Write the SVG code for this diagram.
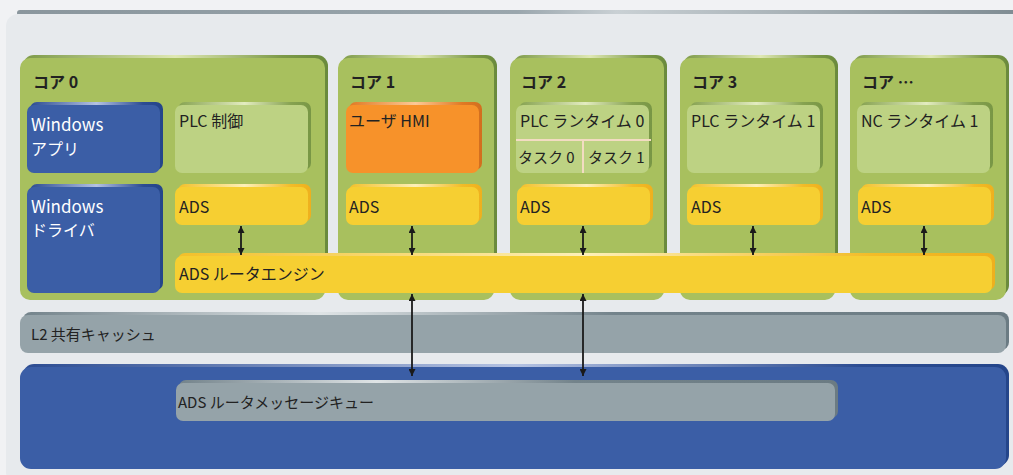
<svg xmlns="http://www.w3.org/2000/svg" width="1013" height="475" viewBox="0 0 1013 475">
<defs>
<linearGradient id="gGreen" x1="0" x2="1" y1="0" y2="0"><stop offset="0" stop-color="#7d9a48"/><stop offset="0.5" stop-color="#dfe8b4"/><stop offset="0.85" stop-color="#7d9a48"/><stop offset="1" stop-color="#6a8a3c"/></linearGradient>
<linearGradient id="gLGreen" x1="0" x2="1" y1="0" y2="0"><stop offset="0" stop-color="#86a250"/><stop offset="0.5" stop-color="#e3ecc0"/><stop offset="0.85" stop-color="#86a250"/><stop offset="1" stop-color="#789645"/></linearGradient>
<linearGradient id="gBlue" x1="0" x2="1" y1="0" y2="0"><stop offset="0" stop-color="#2c4c92"/><stop offset="0.5" stop-color="#b4c2e2"/><stop offset="0.85" stop-color="#2c4c92"/><stop offset="1" stop-color="#24458a"/></linearGradient>
<linearGradient id="gYellow" x1="0" x2="1" y1="0" y2="0"><stop offset="0" stop-color="#f2c02a"/><stop offset="0.5" stop-color="#fdf0b8"/><stop offset="0.85" stop-color="#f2bc28"/><stop offset="1" stop-color="#eeb01e"/></linearGradient>
<linearGradient id="gOrange" x1="0" x2="1" y1="0" y2="0"><stop offset="0" stop-color="#e07a24"/><stop offset="0.5" stop-color="#fcc996"/><stop offset="0.85" stop-color="#e07a24"/><stop offset="1" stop-color="#d26e1e"/></linearGradient>
<linearGradient id="gGrey" x1="0" x2="1" y1="0" y2="0"><stop offset="0" stop-color="#73838b"/><stop offset="0.3" stop-color="#dfe4e6"/><stop offset="0.6" stop-color="#73838b"/><stop offset="1" stop-color="#6b7b83"/></linearGradient>
<linearGradient id="gTop" x1="0" x2="1" y1="0" y2="0"><stop offset="0" stop-color="#8a969d"/><stop offset="0.5" stop-color="#9aa6ad"/><stop offset="0.6" stop-color="#c9d0d4"/><stop offset="1" stop-color="#7f8c93"/></linearGradient>
<marker id="arr" viewBox="0 0 10 10" refX="10" refY="5" markerWidth="7" markerHeight="7" markerUnits="userSpaceOnUse" orient="auto-start-reverse"><path d="M0,0 L10,5 L0,10 z" fill="#1a1a1a"/></marker>
</defs>
<style>
text{font-family:"Noto Sans CJK JP","Liberation Sans",sans-serif;font-size:16px;fill:#222}
.t{font-weight:bold;font-size:16px}
.s{font-size:15px}
.win{font-size:17px}
.w{fill:#ffffff}
.fGreen{fill:#a8c05e}
.fLGreen{fill:#bdd283}
.fBlue{fill:#3b5ea6}
.fYellow{fill:#f6cf32}
.fOrange{fill:#f7922a}
.fGrey{fill:#95a3a9}
.bGreen{fill:url(#gGreen)}
.bLGreen{fill:url(#gLGreen)}
.bBlue{fill:url(#gBlue)}
.bYellow{fill:url(#gYellow)}
.bOrange{fill:url(#gOrange)}
.bGrey{fill:url(#gGrey)}
.c{stroke:#1a1a1a;stroke-width:1.8;fill:none;marker-start:url(#arr);marker-end:url(#arr)}
.div{stroke:#f3dcc2;stroke-width:2}
</style>
<rect x="0" y="0" width="1013" height="475" fill="#f1f2f4"/>
<g id="panel">
<rect x="17" y="10" width="1000" height="6" rx="3" fill="url(#gTop)"/>
<rect x="6" y="14" width="1020" height="470" rx="12" fill="#e7eaed"/>
</g>
<g id="core0">
<rect class="bGreen" x="23" y="55" width="305" height="241" rx="11"/>
<rect class="fGreen" x="20" y="58" width="305" height="242" rx="10"/>
<text class="t" x="33" y="88">コア 0</text>
</g>
<g id="core1">
<rect class="bGreen" x="341" y="55" width="156" height="241" rx="11"/>
<rect class="fGreen" x="338" y="58" width="156" height="242" rx="10"/>
<text class="t" x="350" y="88">コア 1</text>
</g>
<g id="core2">
<rect class="bGreen" x="513" y="55" width="154" height="241" rx="11"/>
<rect class="fGreen" x="510" y="58" width="154" height="242" rx="10"/>
<text class="t" x="521" y="88">コア 2</text>
</g>
<g id="core3">
<rect class="bGreen" x="683" y="55" width="155" height="241" rx="11"/>
<rect class="fGreen" x="680" y="58" width="155" height="242" rx="10"/>
<text class="t" x="692" y="88">コア 3</text>
</g>
<g id="coreN">
<rect class="bGreen" x="853" y="55" width="156" height="241" rx="11"/>
<rect class="fGreen" x="850" y="58" width="156" height="242" rx="10"/>
<text class="t" x="862" y="88">コア …</text>
</g>
<g id="winApp">
<rect class="bBlue" x="30" y="102" width="133" height="68" rx="7"/>
<rect class="fBlue" x="27" y="105" width="133" height="68" rx="7"/>
<text class="w win" x="31" y="131">Windows</text>
<text class="w" x="31" y="155">アプリ</text>
</g>
<g id="winDrv">
<rect class="bBlue" x="30" y="184" width="133" height="106" rx="7"/>
<rect class="fBlue" x="27" y="187" width="133" height="106" rx="7"/>
<text class="w win" x="31" y="213">Windows</text>
<text class="w" x="31" y="236">ドライバ</text>
</g>
<g id="plcCtrl">
<rect class="bLGreen" x="178" y="102" width="133" height="68" rx="7"/>
<rect class="fLGreen" x="175" y="105" width="133" height="68" rx="7"/>
<text x="179" y="127">PLC 制御</text>
</g>
<g id="userHmi">
<rect class="bOrange" x="349" y="102" width="133" height="68" rx="7"/>
<rect class="fOrange" x="346" y="105" width="133" height="68" rx="7"/>
<text x="349" y="127">ユーザ HMI</text>
</g>
<g id="plcRt0">
<rect class="bLGreen" x="519" y="102" width="133" height="68" rx="7"/>
<rect class="fLGreen" x="516" y="105" width="133" height="68" rx="7"/>
<line class="div" x1="516" y1="140" x2="651" y2="140"/>
<line class="div" x1="583" y1="140" x2="583" y2="173"/>
<text x="520" y="127">PLC ランタイム 0</text>
<text class="s" x="518" y="163">タスク 0</text>
<text class="s" x="588" y="163">タスク 1</text>
</g>
<g id="plcRt1">
<rect class="bLGreen" x="690" y="102" width="133" height="68" rx="7"/>
<rect class="fLGreen" x="687" y="105" width="133" height="68" rx="7"/>
<text x="691" y="127">PLC ランタイム 1</text>
</g>
<g id="ncRt1">
<rect class="bLGreen" x="860" y="102" width="133" height="68" rx="7"/>
<rect class="fLGreen" x="857" y="105" width="133" height="68" rx="7"/>
<text x="861" y="127">NC ランタイム 1</text>
</g>
<g id="ads0">
<rect class="bYellow" x="178" y="184" width="133" height="38" rx="7"/>
<rect class="fYellow" x="175" y="187" width="133" height="38" rx="7"/>
<text x="179" y="213">ADS</text>
</g>
<g id="ads1">
<rect class="bYellow" x="349" y="184" width="133" height="38" rx="7"/>
<rect class="fYellow" x="346" y="187" width="133" height="38" rx="7"/>
<text x="349" y="213">ADS</text>
</g>
<g id="ads2">
<rect class="bYellow" x="520" y="184" width="133" height="38" rx="7"/>
<rect class="fYellow" x="517" y="187" width="133" height="38" rx="7"/>
<text x="520" y="213">ADS</text>
</g>
<g id="ads3">
<rect class="bYellow" x="690" y="184" width="133" height="38" rx="7"/>
<rect class="fYellow" x="687" y="187" width="133" height="38" rx="7"/>
<text x="691" y="213">ADS</text>
</g>
<g id="adsN">
<rect class="bYellow" x="861" y="184" width="133" height="38" rx="7"/>
<rect class="fYellow" x="858" y="187" width="133" height="38" rx="7"/>
<text x="861" y="213">ADS</text>
</g>
<g id="routerEngine">
<rect class="bYellow" x="178" y="253" width="817" height="37" rx="7"/>
<rect class="fYellow" x="175" y="256" width="817" height="37" rx="7"/>
<text x="179" y="280">ADS ルータエンジン</text>
</g>
<g id="l2cache">
<rect class="bGrey" x="23" y="312" width="986" height="38" rx="8"/>
<rect class="fGrey" x="20" y="315" width="986" height="38" rx="8"/>
<text class="s" x="31" y="340">L2 共有キャッシュ</text>
</g>
<g id="sharedMem">
<rect class="bBlue" x="23" y="364" width="986" height="102" rx="11"/>
<rect class="fBlue" x="20" y="367" width="986" height="102" rx="11"/>
</g>
<g id="msgQueue">
<rect class="bGrey" x="179" y="380" width="659" height="38" rx="7"/>
<rect class="fGrey" x="176" y="383" width="659" height="38" rx="7"/>
<text class="s" x="178" y="408">ADS ルータメッセージキュー</text>
</g>
<g id="connectors">
<line class="c" x1="241" y1="226" x2="241" y2="255"/>
<line class="c" x1="412" y1="226" x2="412" y2="255"/>
<line class="c" x1="583" y1="226" x2="583" y2="255"/>
<line class="c" x1="753" y1="226" x2="753" y2="255"/>
<line class="c" x1="924" y1="226" x2="924" y2="255"/>
<line class="c" x1="412" y1="294" x2="412" y2="376"/>
<line class="c" x1="583" y1="294" x2="583" y2="376"/>
</g>
</svg>
